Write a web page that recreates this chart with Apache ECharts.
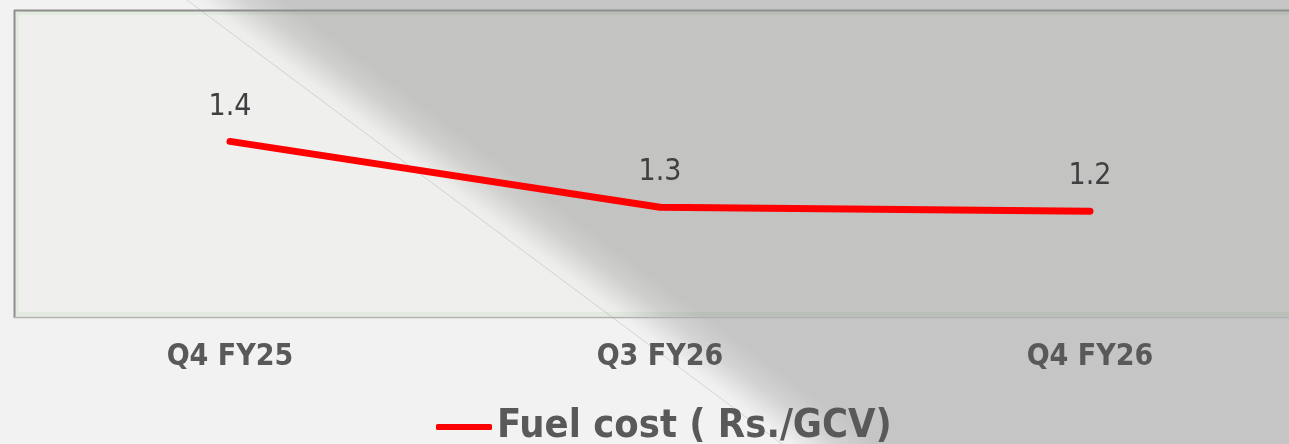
<!DOCTYPE html>
<html>
<head>
    <meta charset="utf-8">
    <title>Fuel cost</title>
    <script src="https://cdn.jsdelivr.net/npm/echarts@6/dist/echarts.min.js"></script>
    <style>
        html, body { margin: 0; padding: 0; background: #f2f2f2; }
    </style>
</head>
<body>
    <div id="main" style="width: 1289px;height:444px;"></div>
    <script type="text/javascript">
        // data
        var categories = ['Q4 FY25', 'Q3 FY26', 'Q4 FY26'];
        var fuelCost = [1.367, 1.252, 1.245];
        var seriesName = 'Fuel cost ( Rs./GCV)';

        var FONT = '"DejaVu Sans Condensed", "Liberation Sans", sans-serif';

        var myChart = echarts.init(document.getElementById('main'));

        // page-curl shadow running diagonally across the slide
        var shadeEdge = [[187, 0], [782, 444]];
        var shadeWidth = 58;
        var shade = {
            type: 'linear',
            global: true,
            x: 187, y: 0,
            x2: 187 + 0.6 * shadeWidth, y2: -0.8 * shadeWidth,
            colorStops: [
                { offset: 0, color: 'rgba(0,0,0,0)' },
                { offset: 0.15, color: 'rgba(0,0,0,0.01)' },
                { offset: 0.6, color: 'rgba(0,0,0,0.13)' },
                { offset: 1, color: 'rgba(0,0,0,0.185)' }
            ]
        };

        option = {
            backgroundColor: '#f2f2f2',
            animation: false,
            // plot box is drawn as graphic; grid only places the categories
            grid: { left: 230, top: 11, width: 860, height: 306 },
            legend: {
                left: 431,
                top: 402,
                icon: 'roundRect',
                itemWidth: 56,
                itemHeight: 6,
                data: [{ name: seriesName, itemStyle: { color: '#ff0000', opacity: 1 } }],
                textStyle: {
                    fontFamily: FONT,
                    fontSize: 39.5,
                    fontWeight: 'bold',
                    color: '#595959'
                }
            },
            xAxis: {
                type: 'category',
                data: categories,
                boundaryGap: false,
                z: 3,
                axisLine: { show: false },
                axisTick: { show: false },
                axisLabel: {
                    margin: 25,
                    fontFamily: FONT,
                    fontSize: 30,
                    fontWeight: 'bold',
                    color: '#595959'
                }
            },
            yAxis: {
                type: 'value',
                min: 1.06,
                max: 1.595,
                show: false,
                splitLine: { show: false }
            },
            graphic: [
                // plot box
                {
                    type: 'rect', z: 0, silent: true,
                    shape: { x: 14, y: 10, width: 1300, height: 308 },
                    style: { fill: '#eff0ee' }
                },
                {
                    type: 'rect', z: 0, silent: true,
                    shape: { x: 17, y: 13, width: 1300, height: 301 },
                    style: { fill: null, stroke: '#e3eae0', lineWidth: 4 }
                },
                // shadow
                {
                    type: 'polygon', z: 1, silent: true,
                    shape: { points: [[187, 0], [1289, 0], [1289, 444], [782, 444]] },
                    style: { fill: shade }
                },
                {
                    type: 'line', z: 1, silent: true,
                    shape: { x1: shadeEdge[0][0], y1: shadeEdge[0][1], x2: shadeEdge[1][0], y2: shadeEdge[1][1] },
                    style: { stroke: 'rgba(0,0,0,0.13)', lineWidth: 1 }
                },
                // frame lines
                {
                    type: 'line', z: 1, silent: true,
                    shape: { x1: 14, y1: 10.5, x2: 1289, y2: 10.5 },
                    style: { stroke: '#8e8e8e', lineWidth: 2 }
                },
                {
                    type: 'line', z: 1, silent: true,
                    shape: { x1: 14.5, y1: 10, x2: 14.5, y2: 318 },
                    style: { stroke: '#8e8e8e', lineWidth: 2 }
                },
                {
                    type: 'line', z: 1, silent: true,
                    shape: { x1: 14, y1: 317.5, x2: 1289, y2: 317.5 },
                    style: { stroke: '#b0b0b0', lineWidth: 1.5 }
                }
            ],
            series: [{
                name: seriesName,
                type: 'line',
                data: fuelCost,
                z: 5,
                symbol: 'circle',
                symbolSize: 1,
                itemStyle: { color: 'rgba(255,0,0,0)' },
                lineStyle: { width: 7, color: '#ff0000', cap: 'round', join: 'round' },
                label: {
                    show: true,
                    position: 'top',
                    distance: 19,
                    fontFamily: FONT,
                    fontSize: 30,
                    color: '#404040',
                    formatter: function (p) { return p.value.toFixed(1); }
                }
            }]
        };

        myChart.setOption(option);
    </script>
</body>
</html>
